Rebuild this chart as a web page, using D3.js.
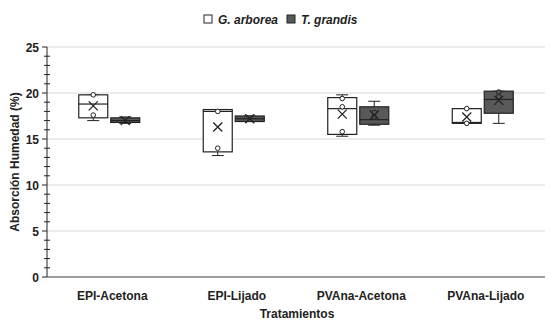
<!DOCTYPE html>
<html>
<head>
<meta charset="utf-8">
<script src="https://cdn.jsdelivr.net/npm/d3@7"></script>
<style>
  body { margin: 0; background: #fff; }
  svg { font-family: "Liberation Sans", Arial, sans-serif; }
</style>
</head>
<body>
<svg id="chart" width="554" height="327"></svg>
<script>
// categorias y series
var categories = ["EPI-Acetona", "EPI-Lijado", "PVAna-Acetona", "PVAna-Lijado"];
var seriesNames = ["G. arborea", "T. grandis"];
var yTicks = [0, 5, 10, 15, 20, 25];

// G. arborea
var arboreaMin    = [17.0, 13.2, 15.3, 16.7];
var arboreaQ1     = [17.3, 13.6, 15.5, 16.7];
var arboreaMedian = [18.8, 18.0, 18.3, 16.8];
var arboreaQ3     = [19.8, 18.2, 19.5, 18.3];
var arboreaMax    = [19.8, 18.2, 19.8, 18.3];
var arboreaMean   = [18.6, 16.3, 17.7, 17.4];
var arboreaPoints = [[19.8, 17.6], [18.0, 14.0], [19.4, 18.5, 15.8], [18.3, 16.7]];

// T. grandis
var grandisMin    = [16.7, 16.9, 16.5, 16.7];
var grandisQ1     = [16.8, 16.9, 16.6, 17.8];
var grandisMedian = [17.0, 17.2, 17.1, 19.3];
var grandisQ3     = [17.3, 17.5, 18.5, 20.2];
var grandisMax    = [17.4, 17.5, 19.1, 20.2];
var grandisMean   = [17.0, 17.2, 17.6, 19.2];
var grandisPoints = [[], [], [17.9, 17.4], [20.1, 19.6]];

var fills = ["#ffffff", "#595959"];

var svg = d3.select("#chart");
var plotLeft = 47, plotRight = 545, plotTop = 47, plotBottom = 277;

var x = d3.scaleBand().domain(categories).range([plotLeft, plotRight]);
var xSub = d3.scaleBand().domain(seriesNames)
  .range([x.bandwidth() / 2 - 30.5, x.bandwidth() / 2 + 30.5])
  .paddingInner(0.094);
var y = d3.scaleLinear().domain([0, 25]).range([plotBottom, plotTop]);

// tabla de cajas
var boxes = [];
categories.forEach(function (c, i) {
  boxes.push({cat: c, s: seriesNames[0], fill: fills[0], min: arboreaMin[i], q1: arboreaQ1[i], med: arboreaMedian[i],
    q3: arboreaQ3[i], max: arboreaMax[i], mean: arboreaMean[i], pts: arboreaPoints[i]});
  boxes.push({cat: c, s: seriesNames[1], fill: fills[1], min: grandisMin[i], q1: grandisQ1[i], med: grandisMedian[i],
    q3: grandisQ3[i], max: grandisMax[i], mean: grandisMean[i], pts: grandisPoints[i]});
});

// grilla
svg.append("g").selectAll("line").data(yTicks.filter(function (d) { return d > 0; }))
  .enter().append("line")
  .attr("x1", plotLeft).attr("x2", plotRight)
  .attr("y1", function (d) { return y(d); }).attr("y2", function (d) { return y(d); })
  .attr("stroke", "#d9d9d9").attr("stroke-width", 1);

// eje X
svg.append("line").attr("x1", plotLeft).attr("x2", plotRight).attr("y1", plotBottom).attr("y2", plotBottom)
  .attr("stroke", "#808080").attr("stroke-width", 1.3);

// eje Y con marcas menores
var yAxis = svg.append("g").attr("transform", "translate(" + plotLeft + ",0)");
yAxis.append("line").attr("y1", plotTop).attr("y2", plotBottom).attr("stroke", "#222");
yAxis.selectAll("line.minor").data(d3.range(0, 26, 1))
  .enter().append("line").attr("class", "minor")
  .attr("x1", function (d) { return d % 5 === 0 ? -5 : -3; }).attr("x2", function (d) { return d % 5 === 0 ? 0 : 3; })
  .attr("y1", function (d) { return y(d); }).attr("y2", function (d) { return y(d); })
  .attr("stroke", "#222");
yAxis.selectAll("text").data(yTicks).enter().append("text")
  .attr("x", -8).attr("y", function (d) { return y(d) + 4.5; })
  .attr("text-anchor", "end").attr("font-size", 12).attr("font-weight", "bold").attr("fill", "#222")
  .text(function (d) { return d; });

// etiquetas de categoria
svg.append("g").selectAll("text").data(categories).enter().append("text")
  .attr("x", function (d) { return x(d) + x.bandwidth() / 2 + 3; })
  .attr("y", 300).attr("text-anchor", "middle")
  .attr("font-size", 12).attr("font-weight", "bold").attr("fill", "#222")
  .text(function (d) { return d; });

// titulos
svg.append("text").attr("x", 297).attr("y", 318).attr("text-anchor", "middle")
  .attr("font-size", 12).attr("font-weight", "bold").attr("fill", "#222").text("Tratamientos");
svg.append("text").attr("transform", "translate(19,162) rotate(-90)").attr("text-anchor", "middle")
  .attr("font-size", 12).attr("font-weight", "bold").attr("fill", "#222").text("Absorción  Humedad (%)");

// cajas
var g = svg.append("g").selectAll("g").data(boxes).enter().append("g")
  .attr("transform", function (d) { return "translate(" + (x(d.cat) + xSub(d.s)) + ",0)"; });
var bw = xSub.bandwidth();

g.append("line").attr("x1", bw / 2).attr("x2", bw / 2)
  .attr("y1", function (d) { return y(d.max); }).attr("y2", function (d) { return y(d.q3); }).attr("stroke", "#222");
g.append("line").attr("x1", bw / 2).attr("x2", bw / 2)
  .attr("y1", function (d) { return y(d.q1); }).attr("y2", function (d) { return y(d.min); }).attr("stroke", "#222");
g.append("line").attr("x1", bw / 2 - 6).attr("x2", bw / 2 + 6)
  .attr("y1", function (d) { return y(d.max); }).attr("y2", function (d) { return y(d.max); }).attr("stroke", "#222");
g.append("line").attr("x1", bw / 2 - 6).attr("x2", bw / 2 + 6)
  .attr("y1", function (d) { return y(d.min); }).attr("y2", function (d) { return y(d.min); }).attr("stroke", "#222");

g.append("rect").attr("x", 0).attr("width", bw)
  .attr("y", function (d) { return y(d.q3); })
  .attr("height", function (d) { return y(d.q1) - y(d.q3); })
  .attr("fill", function (d) { return d.fill; }).attr("stroke", "#222").attr("stroke-width", 1.2);
g.append("line").attr("x1", 0).attr("x2", bw)
  .attr("y1", function (d) { return y(d.med); }).attr("y2", function (d) { return y(d.med); })
  .attr("stroke", "#222").attr("stroke-width", 1.2);

// puntos
g.each(function (d) {
  d3.select(this).selectAll("circle").data(d.pts).enter().append("circle")
    .attr("cx", bw / 2).attr("cy", function (p) { return y(p); }).attr("r", 2.3)
    .attr("fill", d.fill).attr("stroke", "#222").attr("stroke-width", 1);
});

// media (X)
g.append("path")
  .attr("d", function (d) {
    var cy = y(d.mean), cx = bw / 2, s = 4.5;
    return "M" + (cx - s) + "," + (cy - s) + "L" + (cx + s) + "," + (cy + s) +
      "M" + (cx - s) + "," + (cy + s) + "L" + (cx + s) + "," + (cy - s);
  })
  .attr("stroke", "#222").attr("stroke-width", 1.3).attr("fill", "none");

// leyenda
var legend = svg.append("g").attr("transform", "translate(204,15)");
var lx = [0, 83];
seriesNames.forEach(function (s, i) {
  legend.append("rect").attr("x", lx[i]).attr("y", 0).attr("width", 8).attr("height", 8)
    .attr("fill", fills[i]).attr("stroke", "#222");
  legend.append("text").attr("x", lx[i] + 14).attr("y", 8.5)
    .attr("font-size", 12).attr("font-weight", "bold").attr("font-style", "italic").attr("fill", "#222")
    .text(s);
});
</script>
</body>
</html>
